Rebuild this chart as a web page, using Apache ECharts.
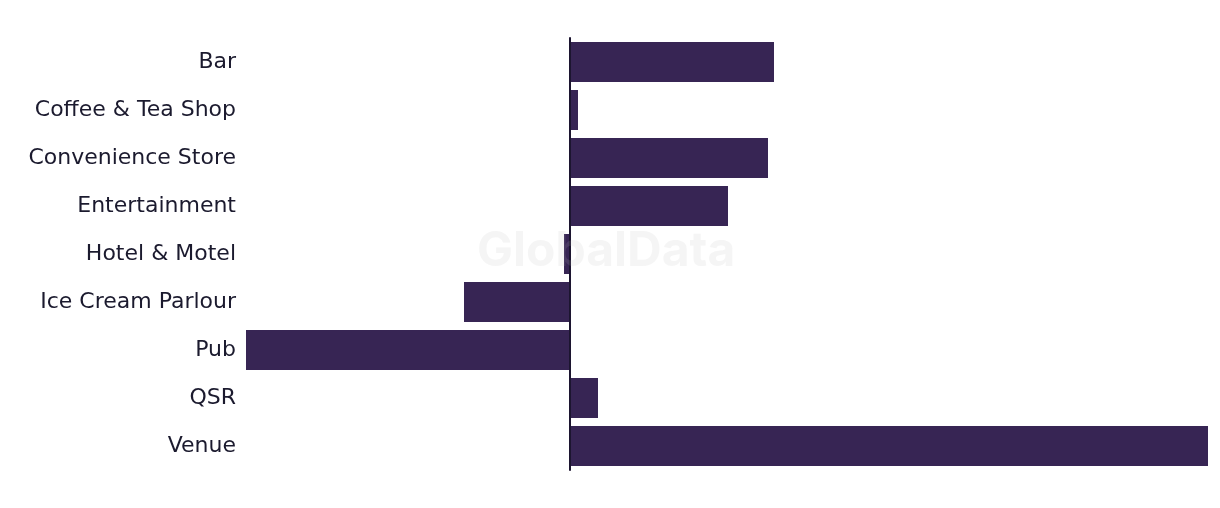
<!DOCTYPE html>
<html>
<head>
<meta charset="utf-8">
<style>
  html, body { margin: 0; padding: 0; background: #fff; }
  #chart { width: 1220px; height: 508px; }
</style>
<script src="https://cdn.jsdelivr.net/npm/echarts@6/dist/echarts.min.js"></script>
</head>
<body>
<div id="chart"></div>
<script>
const categories = ['Bar', 'Coffee & Tea Shop', 'Convenience Store', 'Entertainment', 'Hotel & Motel',
  'Ice Cream Parlour', 'Pub', 'QSR', 'Venue'];
const values = [20.4, 0.8, 19.8, 15.8, -0.6, -10.6, -32.4, 2.8, 63.8];

const chart = echarts.init(document.getElementById('chart'));

var option = {
  backgroundColor: '#ffffff',
  animation: false,
  grid: {
    left: 246,
    right: 12,
    top: 38,
    height: 432
  },
  xAxis: {
    type: 'value',
    show: false,
    min: function (v) { return v.min; },
    max: function (v) { return v.max; }
  },
  yAxis: {
    type: 'category',
    inverse: true,
    data: categories,
    axisTick: { show: false },
    axisLine: {
      show: true,
      onZero: true,
      lineStyle: { color: '#1c1530', width: 2 }
    },
    axisLabel: {
      color: '#1b1a2e',
      fontSize: 22,
      fontFamily: 'DejaVu Sans',
      margin: 10
    },
    z: 5
  },
  series: [
    {
      type: 'bar',
      data: values,
      barWidth: 40,
      itemStyle: { color: '#372554' }
    }
  ],
  graphic: [
    {
      type: 'text',
      left: 477,
      top: 228,
      z: 100,
      silent: true,
      style: {
        text: 'GlobalData',
        font: 'bold 48px Inter',
        fill: 'rgba(188,188,188,0.15)'
      }
    }
  ]
};

chart.setOption(option);
</script>
</body>
</html>
